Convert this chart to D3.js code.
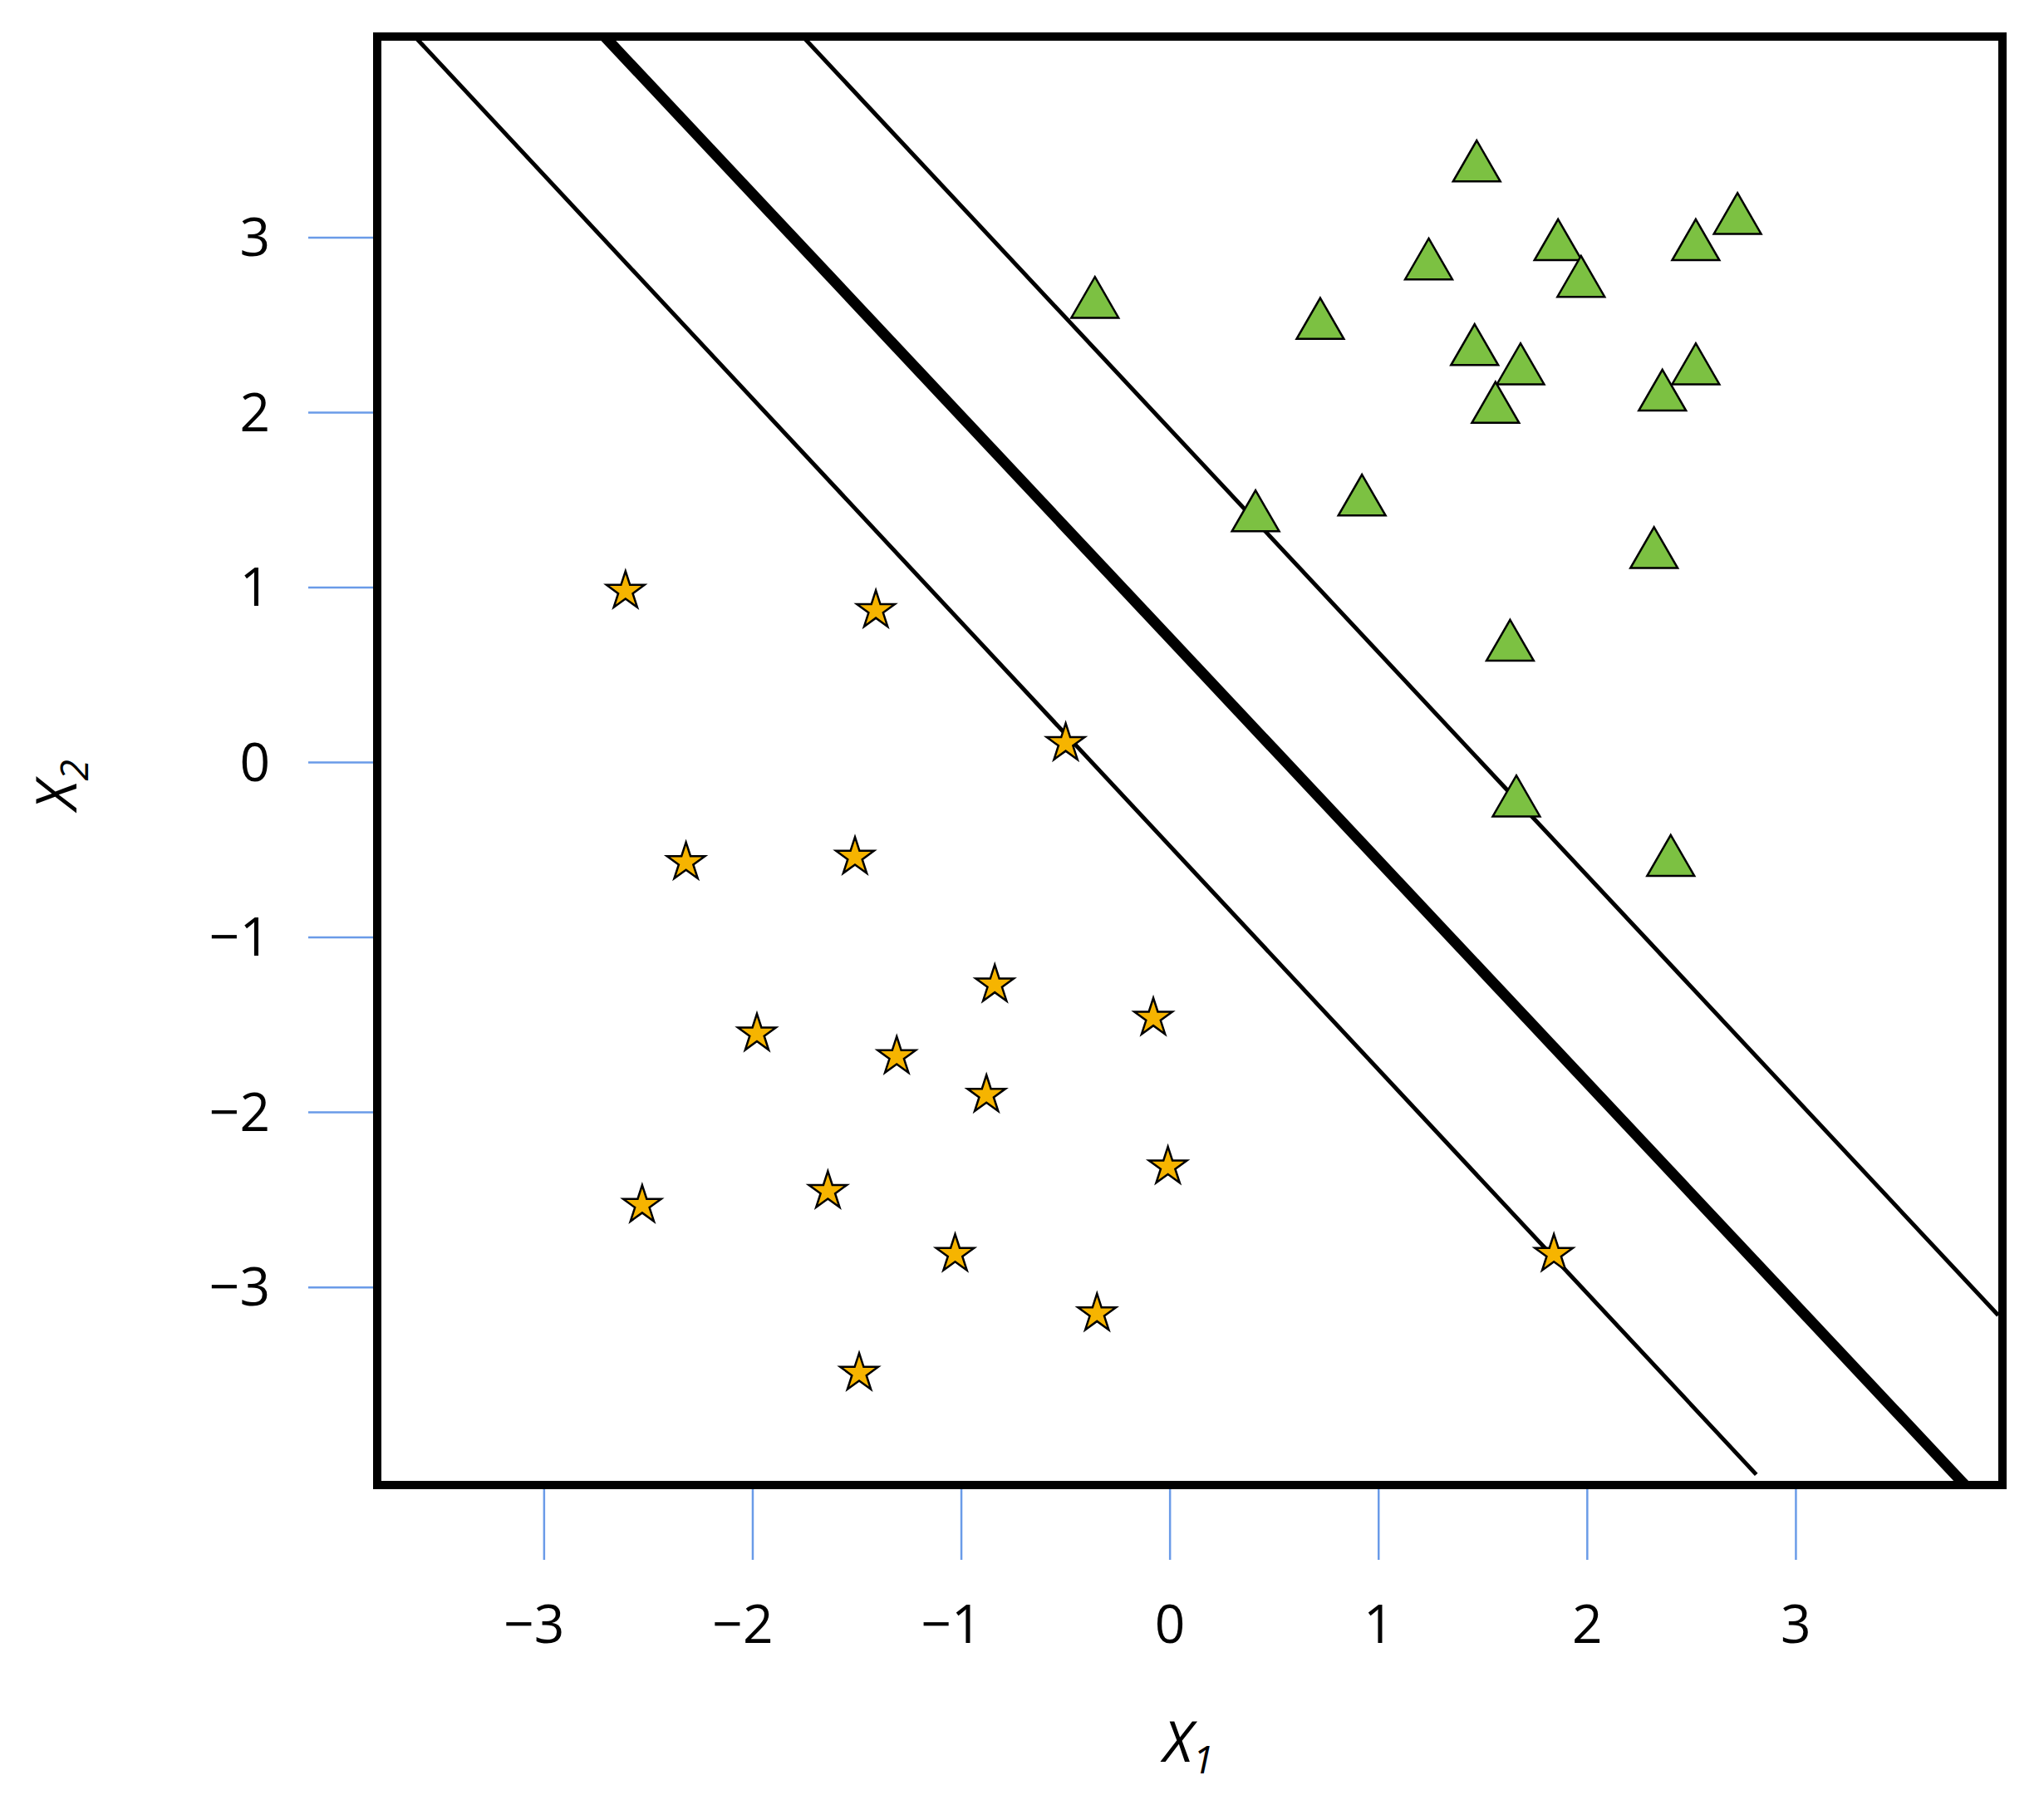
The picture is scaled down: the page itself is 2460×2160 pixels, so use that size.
<!DOCTYPE html>
<html>
<head>
<meta charset="UTF-8">
<script src="https://d3js.org/d3.v7.min.js"></script>
<style>
  body { margin: 0; background: #fff; }
  text { font-family: "Open Sans", "DejaVu Sans", sans-serif; }
</style>
</head>
<body>
<svg width="2460" height="2160"></svg>
<script>
// data values
const xTicks = [-3, -2, -1, 0, 1, 2, 3];
const yTicks = [-3, -2, -1, 0, 1, 2, 3];

const triangles = [
  [1.47, 3.40], [2.72, 3.10], [1.86, 2.95], [2.52, 2.95], [1.24, 2.84],
  [1.97, 2.74], [-0.36, 2.62], [0.72, 2.50], [1.46, 2.35], [1.68, 2.24],
  [2.52, 2.24], [1.56, 2.02], [2.36, 2.09], [0.92, 1.49], [0.41, 1.40],
  [2.32, 1.19], [1.63, 0.66], [1.66, -0.23], [2.40, -0.57]
];
const stars = [
  [-2.61, 0.98], [-1.41, 0.87], [-0.50, 0.11], [-2.32, -0.57], [-1.51, -0.54],
  [-0.84, -1.27], [-0.08, -1.46], [-1.98, -1.55], [-1.31, -1.68], [-0.88, -1.90],
  [-0.01, -2.31], [-2.53, -2.53], [-1.64, -2.45], [-1.03, -2.81], [1.84, -2.81],
  [-0.35, -3.15], [-1.49, -3.49]
];
// hyperplane and margins: [x1, y1, x2, y2]
const hyperplane = [-2.71, 4.15, 3.81, -4.13];
const margins = [
  [-3.62, 4.15, 2.81, -4.07],
  [-1.76, 4.15, 3.97, -3.16]
];

const svg = d3.select("svg");
const fLeft = 454, fRight = 2410, fTop = 44, fBottom = 1787;

const x = d3.scaleLinear().domain([-3.80, 3.99]).range([fLeft, fRight]);
const y = d3.scaleLinear().domain([-4.13, 4.15]).range([fBottom, fTop]);

svg.append("clipPath").attr("id", "clip")
  .append("rect").attr("x", fLeft).attr("y", fTop)
  .attr("width", fRight - fLeft).attr("height", fBottom - fTop);

// ticks (blue, outside frame)
svg.append("g").selectAll("line").data(yTicks).enter().append("line")
  .attr("x1", 371).attr("x2", fLeft)
  .attr("y1", d => y(d)).attr("y2", d => y(d))
  .attr("stroke", "#6a9be8").attr("stroke-width", 2.5);
svg.append("g").selectAll("text").data(yTicks).enter().append("text")
  .attr("x", 325).attr("y", d => y(d) + 22)
  .attr("text-anchor", "end").attr("font-size", 64)
  .text(d => d < 0 ? "\u2212" + Math.abs(d) : d);

svg.append("g").selectAll("line").data(xTicks).enter().append("line")
  .attr("x1", d => x(d)).attr("x2", d => x(d))
  .attr("y1", fBottom).attr("y2", 1877)
  .attr("stroke", "#6a9be8").attr("stroke-width", 2.5);
svg.append("g").selectAll("text").data(xTicks).enter().append("text")
  .attr("x", d => x(d) - (d < 0 ? 12 : 0)).attr("y", 1977)
  .attr("text-anchor", "middle").attr("font-size", 64)
  .text(d => d < 0 ? "\u2212" + Math.abs(d) : d);

// axis titles
const xl = svg.append("text").attr("x", 1400).attr("y", 2120)
  .attr("font-size", 68).attr("font-style", "italic");
xl.append("tspan").text("X");
xl.append("tspan").attr("font-size", 46).attr("dy", 14).text("1");

const yl = svg.append("text")
  .attr("transform", "translate(92,975) rotate(-90)")
  .attr("font-size", 68).attr("font-style", "italic");
yl.append("tspan").text("X");
yl.append("tspan").attr("font-size", 46).attr("dy", 14).text("2");

// lines
const g = svg.append("g").attr("clip-path", "url(#clip)");
g.selectAll("line.margin").data(margins).enter().append("line")
  .attr("class", "margin")
  .attr("x1", d => x(d[0])).attr("y1", d => y(d[1]))
  .attr("x2", d => x(d[2])).attr("y2", d => y(d[3]))
  .attr("stroke", "#000").attr("stroke-width", 5);
g.append("line")
  .attr("x1", x(hyperplane[0])).attr("y1", y(hyperplane[1]))
  .attr("x2", x(hyperplane[2])).attr("y2", y(hyperplane[3]))
  .attr("stroke", "#000").attr("stroke-width", 13);

// points
svg.append("g").selectAll("path").data(triangles).enter().append("path")
  .attr("d", d3.symbol(d3.symbolTriangle, 1400))
  .attr("transform", d => `translate(${x(d[0])},${y(d[1])})`)
  .attr("fill", "#7cc142").attr("stroke", "#000").attr("stroke-width", 2.5);
svg.append("g").selectAll("path").data(stars).enter().append("path")
  .attr("d", d3.symbol(d3.symbolStar, 650))
  .attr("transform", d => `translate(${x(d[0])},${y(d[1])})`)
  .attr("fill", "#f6b400").attr("stroke", "#000").attr("stroke-width", 2.5);

// frame
svg.append("rect").attr("x", fLeft).attr("y", fTop)
  .attr("width", fRight - fLeft).attr("height", fBottom - fTop)
  .attr("fill", "none").attr("stroke", "#000").attr("stroke-width", 10);
</script>
</body>
</html>
